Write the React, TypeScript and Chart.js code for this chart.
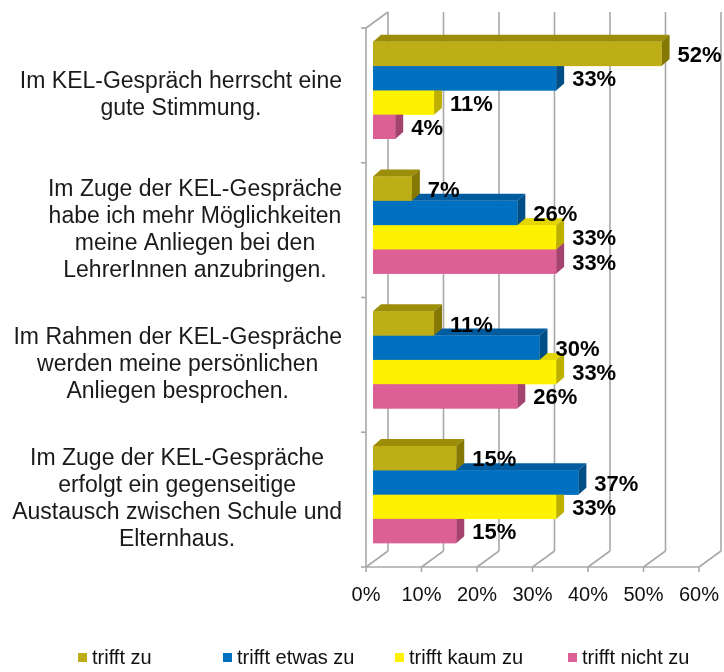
import React, { useEffect, useRef } from 'react';
import { Chart, registerables } from 'chart.js';

Chart.register(...registerables);

const FONT = "'Liberation Sans', Arial, sans-serif";

const categories: string[][] = [
  ['Im KEL-Gespräch herrscht eine', 'gute Stimmung.'],
  ['Im Zuge der KEL-Gespräche', 'habe ich mehr Möglichkeiten', 'meine Anliegen bei den', 'LehrerInnen anzubringen.'],
  ['Im Rahmen der KEL-Gespräche', 'werden meine persönlichen', 'Anliegen besprochen.'],
  ['Im Zuge der KEL-Gespräche', 'erfolgt ein gegenseitige', 'Austausch zwischen Schule und', 'Elternhaus.'],
];

const seriesNames = ['trifft zu', 'trifft etwas zu', 'trifft kaum zu', 'trifft nicht zu'];
const trifftZu = [52, 7, 11, 15];
const trifftEtwasZu = [33, 26, 30, 37];
const trifftKaumZu = [11, 33, 33, 33];
const trifftNichtZu = [4, 33, 26, 15];
const seriesValues = [trifftZu, trifftEtwasZu, trifftKaumZu, trifftNichtZu];

const xMin = 0;
const xMax = 60;
const xStep = 10;

const frontColors = ['#BDAE17', '#0070C0', '#FFF200', '#DC5F96'];
const topColors = ['#9C8E08', '#005C9E', '#E2D500', '#C44E82'];
const sideColors = ['#857805', '#004E86', '#BDB000', '#A3436E'];

// 3D geometry (pixels)
const BACK = { dx: 15, dy: -11 };
const FRONT = { dx: -7, dy: 5 };
const BAR = { dx: 8, dy: -7 };

const threeD = {
  id: 'threeD',
  beforeDatasetsDraw(chart: any) {
    const { ctx, chartArea, scales } = chart;
    const { top, bottom } = chartArea;
    const x = scales.x;
    const y = scales.y;
    ctx.save();
    ctx.strokeStyle = '#A8A8A8';
    ctx.lineWidth = 1.6;
    const line = (x1: number, y1: number, x2: number, y2: number) => {
      ctx.beginPath();
      ctx.moveTo(x1, y1);
      ctx.lineTo(x2, y2);
      ctx.stroke();
    };
    const fy = bottom + FRONT.dy;
    const by = bottom + BACK.dy;
    x.ticks.forEach((t: any) => {
      const px = x.getPixelForValue(t.value);
      line(px + BACK.dx, top + BACK.dy, px + BACK.dx, by);
      line(px + BACK.dx, by, px + FRONT.dx, fy);
      line(px + FRONT.dx, fy, px + FRONT.dx, fy + 5);
    });
    const x0 = x.getPixelForValue(xMin);
    const x1 = x.getPixelForValue(xMax);
    line(x0 + FRONT.dx, fy, x1 + FRONT.dx, fy);
    line(x0 + FRONT.dx, top + FRONT.dy, x0 + FRONT.dx, fy);
    line(x0 + FRONT.dx, top + FRONT.dy, x0 + BACK.dx, top + BACK.dy);
    const n = categories.length;
    const band = (bottom - top) / n;
    for (let k = 0; k <= n; k++) {
      const yy = y.getPixelForValue(0) - band / 2 + k * band + FRONT.dy;
      line(x0 + FRONT.dx - 5, yy, x0 + FRONT.dx, yy);
    }
    ctx.restore();
  },
  afterDatasetsDraw(chart: any) {
    const { ctx } = chart;
    const nd = seriesValues.length;
    const poly = (pts: number[][]) => {
      ctx.beginPath();
      ctx.moveTo(pts[0][0], pts[0][1]);
      for (let i = 1; i < pts.length; i++) ctx.lineTo(pts[i][0], pts[i][1]);
      ctx.closePath();
      ctx.fill();
    };
    ctx.save();
    const boxes: any[] = [];
    for (let i = 0; i < categories.length; i++) {
      for (let d = nd - 1; d >= 0; d--) {
        const el = chart.getDatasetMeta(d).data[i];
        const p = el.getProps(['x', 'y', 'base', 'height'], true);
        const x0 = Math.min(p.base, p.x);
        const x1 = Math.max(p.base, p.x);
        const yt = p.y - p.height / 2;
        const yb = p.y + p.height / 2;
        ctx.fillStyle = topColors[d];
        poly([[x0, yt], [x1, yt], [x1 + BAR.dx, yt + BAR.dy], [x0 + BAR.dx, yt + BAR.dy]]);
        ctx.fillStyle = sideColors[d];
        poly([[x1, yt], [x1 + BAR.dx, yt + BAR.dy], [x1 + BAR.dx, yb + BAR.dy], [x1, yb]]);
        ctx.fillStyle = frontColors[d];
        ctx.fillRect(x0, yt, x1 - x0, p.height);
        boxes.push({ x1, yc: p.y, v: seriesValues[d][i] });
      }
    }
    ctx.font = `bold 22px ${FONT}`;
    ctx.fillStyle = '#000';
    ctx.textAlign = 'left';
    ctx.textBaseline = 'middle';
    boxes.forEach((b) => {
      ctx.fillText(`${b.v}%`, b.x1 + 16, b.yc + 2);
    });
    ctx.restore();
  },
  afterDraw(chart: any) {
    const { ctx, scales } = chart;
    const y = scales.y;
    ctx.save();
    // category labels
    ctx.font = `23px ${FONT}`;
    ctx.fillStyle = '#1a1a1a';
    ctx.textAlign = 'center';
    ctx.textBaseline = 'middle';
    categories.forEach((lines, i) => {
      const cy = y.getPixelForValue(i) + FRONT.dy;
      const widest = Math.max(...lines.map((l) => ctx.measureText(l).width));
      const cx = 342 - widest / 2;
      lines.forEach((l, j) => {
        ctx.fillText(l, cx, cy + (j - (lines.length - 1) / 2) * 27);
      });
    });
    // legend
    const slots = [145, 172, 173, 0];
    let lx = 78;
    const ly = 658;
    ctx.font = `20px ${FONT}`;
    ctx.textAlign = 'left';
    seriesNames.forEach((name, d) => {
      ctx.fillStyle = frontColors[d];
      ctx.fillRect(lx, ly - 5, 9, 9);
      ctx.fillStyle = '#111';
      ctx.fillText(name, lx + 14, ly);
      lx += slots[d];
    });
    ctx.restore();
  },
};

export default function App() {
  const ref = useRef<HTMLCanvasElement>(null);
  useEffect(() => {
    document.body.style.margin = '0';
    const canvas = ref.current!;
    const chart = new Chart(canvas, {
      type: 'bar',
      data: {
        labels: categories.map((c) => c.join(' ')),
        datasets: seriesNames.map((name, d) => ({
          label: name,
          data: seriesValues[d],
          backgroundColor: frontColors[d],
          borderWidth: 0,
          categoryPercentage: 0.72,
          barPercentage: 1,
        })),
      },
      options: {
        indexAxis: 'y',
        responsive: false,
        animation: false,
        layout: { padding: { left: 373, right: 18, top: 23, bottom: 65 } },
        scales: {
          x: {
            min: xMin,
            max: xMax,
            ticks: {
              stepSize: xStep,
              callback: (v: any) => `${v}%`,
              font: { family: FONT, size: 20 },
              color: '#111',
              padding: 13,
              labelOffset: -7,
            },
            grid: { display: false },
            border: { display: false },
            afterFit: (scale: any) => {
              scale.height = 45;
              scale.paddingLeft = 0;
              scale.paddingRight = 0;
              scale.paddingTop = 0;
              scale.paddingBottom = 0;
            },
          },
          y: { display: false },
        },
        plugins: { legend: { display: false }, tooltip: { enabled: false } },
      } as any,
      plugins: [threeD],
    });
    return () => chart.destroy();
  }, []);
  return (
    <div style={{ width: 724, height: 672 }}>
      <canvas ref={ref} width={724} height={672} style={{ display: 'block' }} />
    </div>
  );
}
